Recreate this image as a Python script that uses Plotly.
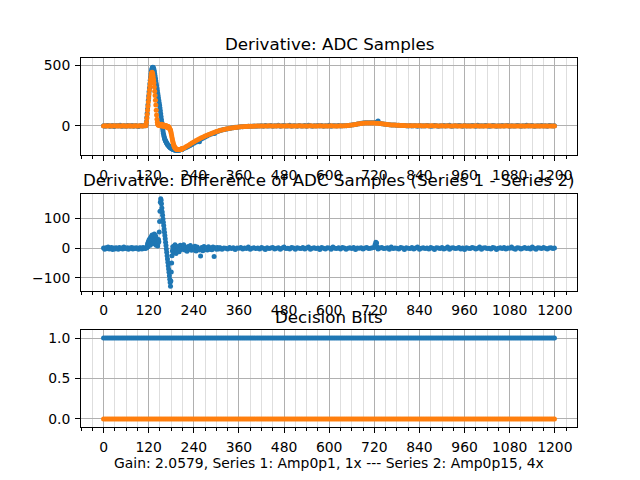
import plotly.graph_objects as go

# ---------------- data ----------------
# Panel 1: derivative of ADC samples, sample index grid
adc_x = (list(range(0, 112, 4)) + list(range(112, 210)) + list(range(210, 420, 5))
         + list(range(420, 1200, 5)) + [1199])

adc_series1 = [
    # 0..108 step 4
    2, -3, 1, 4, -2, 0, 3, -4, 1, 2, -1, 5, -3, 0, 2, -2, 4, -1, 0, 3, -3, 1, 2, -4, 0, 3, -1, 2,
    # 112..209 step 1
    2, 10, 35, 70, 105, 140, 175, 210, 245, 280,
    312, 345, 375, 402, 426, 446, 461, 472, 479, 481,
    479, 472, 461, 446, 428, 409, 389, 369, 349, 329,
    309, 289, 269, 249, 229, 209, 189, 169, 147, 124,
    100, 76, 52, 28, 4, -20, -42, -60, -75, -88,
    -99, -109, -117, -124, -130, -136, -141, -146, -151, -155,
    -159, -163, -167, -170, -173, -176, -179, -181, -183, -185,
    -187, -189, -190, -191, -193, -194, -195, -196, -196, -197,
    -197, -198, -198, -198, -198, -198, -197, -197, -197, -196,
    -196, -195, -195, -194, -193, -192, -191, -190,
    # 210..415 step 5
    -189, -183, -176, -168, -160, -151, -142, -133, -124, -130,
    -106, -98, -90, -82, -75, -68, -61, -62, -49, -44,
    -38, -33, -29, -26, -23, -20, -17, -14, -11, -10,
    -8, -7, -6, -5, -4, -3, -3, -2, -1, -2,
    0, -1,
    # 420..635 step 5
    1, -2, 3, 0, -1, 4, -3, 2, 0, 5,
    -2, 1, 3, -1, 0, 6, -3, 2, 1, -2,
    4, 0, -1, 3, -2, 5, 1, -3, 2, 0,
    3, -1, 4, -2, 1, 0, 5, -3, 2, 1,
    -1, 3, 0, 2,
    # 640..800 step 5
    1, 2, 3, 5, 7, 10, 13, 16, 19, 22,
    24, 26, 27, 27, 27, 26, 26, 30, 40, 22,
    19, 17, 15, 13, 11, 9, 8, 7, 6, 5,
    4, 4, 3,
    # 805..1195 step 5, then 1199
    2, 0, 3, -1, 2, 1, -2, 4, 0, 1,
    -1, 3, 2, -2, 0, 4, 1, -3, 2, 0,
    3, -1, 1, 5, -2, 0, 2, -1, 3, 1,
    -2, 4, 0, 2, -1, 3, 1, -2, 5, 0,
    1, -1, 3, 2, -3, 0, 4, 1, -2, 2,
    0, 3, -1, 1, 4, -2, 2, 0, -1, 3,
    1, -3, 2, 0, 5, -1, 1, 3, -2, 0,
    2, -1, 4, 0, 1, -2, 3, 1, 0,
    1,
]

adc_series2 = [
    # 0..108 step 4
    0, 1, -1, 0, 2, 0, -1, 1, 0, 0, 1, -1, 0, 2, 0, -1, 0, 1, 0, -1, 0, 1, 0, -1, 1, 0, 0, 1,
    # 112..209 step 1
    1, 8, 30, 62, 95, 128, 162, 196, 230, 262,
    295, 325, 355, 382, 405, 424, 436, 440, 434, 420,
    402, 380, 352, 320, 285, 250, 212, 172, 130, 90,
    55, 30, 15, 10, 6, 12, 4, 15, 8, 2,
    10, 5, 14, 0, 8, 3, 10, -2, 6, 0,
    5, -4, 3, -6, 2, -8, 0, -10, -3, -12,
    -5, -15, -8, -18, -22, -28, -36, -48, -62, -78,
    -94, -110, -125, -139, -150, -160, -168, -174, -179, -183,
    -186, -188, -190, -191, -192, -192, -193, -193, -193, -193,
    -192, -192, -191, -191, -190, -189, -188, -187,
    # 210..415 step 5
    -185, -178, -169, -160, -150, -140, -131, -122, -113, -105,
    -97, -90, -83, -76, -69, -63, -57, -51, -46, -41,
    -36, -32, -28, -25, -22, -19, -16, -14, -12, -10,
    -8, -7, -6, -5, -4, -3, -3, -2, -2, -1,
    -1, -1,
    # 420..635 step 5
    0, -1, 0, 0, 1, 0, -1, 0, 0, 1,
    0, 0, -1, 0, 1, 0, 0, -1, 0, 0,
    1, 0, 0, -1, 0, 0, 1, 0, 0, -1,
    0, 1, 0, 0, -1, 0, 0, 1, 0, 0,
    -1, 0, 1, 0,
    # 640..800 step 5
    1, 2, 3, 5, 7, 10, 13, 16, 19, 21,
    23, 24, 25, 25, 25, 24, 24, 23, 22, 20,
    18, 16, 14, 12, 10, 9, 8, 7, 6, 5,
    4, 3, 3,
    # 805..1195 step 5, then 1199
    2, 1, 2, 1, 1, 2, 1, 1, 1, 0,
    1, 1, 0, 1, 1, 0, 1, 0, 0, 1,
    0, 0, 1, 0, 0, 0, 1, 0, 0, 0,
    0, 1, 0, 0, 0, 0, 0, 1, 0, 0,
    0, 0, 0, 0, 1, 0, 0, 0, 0, 0,
    0, 0, 0, 1, 0, 0, 0, 0, 0, 0,
    0, 0, 0, 0, 0, 1, 0, 0, 0, 0,
    0, 0, 0, 0, 0, 0, 0, 0, 0,
    0,
]

# Panel 2: derivative of the difference (Series 1 - Series 2)
diff_x = (list(range(0, 114, 3)) + list(range(114, 195)) + list(range(195, 310, 3))
          + list(range(310, 720, 5)) + [720, 722, 724, 726, 728]
          + list(range(730, 1200, 5)) + [1199])

diff_values = [
    # 0..111 step 3
    1, -3, 2, -1, 4, -2, 0, 3, -4, 1, -2, 2, 0, -3, 3, -1, 1, -2, 4, 0,
    -1, 2, -3, 1, 0, 3, -2, 1, -1, 2, 0, -3, 2, 1, -2, 3, 0, -1,
    # 114..194 step 1
    1, 3, 8, 15, 5, 22, 12, 28, 18, 32,
    10, 35, 25, 40, 20, 45, 30, 38, 15, 42,
    28, 48, 35, 44, 20, 40, 10, 30, 12, 25,
    8, 18, 30, 22, 55, 90, 125, 155, 167, 162,
    150, 136, 122, 111, 99, 88, 77, 65, 54, 43,
    32, 20, 9, -2, -13, -25, -36, -47, -59, -70,
    -81, -93, -104, -115, -128, -110, -80, -50, -25, -8,
    5, -12, 3, -15, 8, -5, 12, -10, 4, -18,
    6,
    # 195..309 step 3
    -8, 5, -12, 10, -4, 8, 12, -6, 3, -10,
    6, -3, 9, -7, 2, -5, 7, -9, 4, -2,
    -6, -26, 3, -8, 6, -4, 2, -6, 5, -3,
    1, -5, 4, -28, 2, -3, 3, -2, 1,
    # 310..715 step 5
    2, -3, 1, 0, -2, 3, -1, 2, -4, 1,
    0, 3, -2, 1, -1, 4, -3, 0, 2, -1,
    1, -2, 3, 0, -4, 2, -1, 1, 3, -2,
    0, 2, -3, 1, 4, -1, 0, -2, 3, 1,
    -3, 2, 0, -1, 3, -2, 1, 4, -3, 0,
    2, -1, 1, -4, 3, 0, -2, 2, 1, -3,
    4, 0, -1, 2, -2, 3, 1, -3, 0, 2,
    -1, 3, -4, 1, 0, 2, -2, 1, 3, -1,
    0, 2,
    # 720..728
    3, 12, 20, 18, 4,
    # 730..1195 step 5
    -2, 1, 3, -1, 0, 2, -3, 4, -1, 1,
    0, -2, 3, 1, -4, 2, 0, -1, 3, -2,
    1, 4, -3, 0, 2, -1, 1, -2, 3, 0,
    -4, 2, 1, -1, 3, -2, 0, 4, -3, 1,
    2, -1, 0, 3, -2, 1, -4, 2, 0, -1,
    3, 1, -2, 0, 4, -3, 1, 2, -1, 0,
    -2, 3, 1, -4, 0, 2, -1, 3, -2, 1,
    0, 4, -1, -3, 2, 1, -2, 0, 3, -1,
    1, -2, 4, 0, -3, 2, 1, -1, 3, 0,
    -2, 1, 2, -1,
    # 1199
    1,
]

# Panel 3: decision bits (constant in the picture)
bits_x = list(range(0, 1200, 5)) + [1199]
bits_series1 = [1] * len(bits_x)
bits_series2 = [0] * len(bits_x)

x_ticks = [0, 120, 240, 360, 480, 600, 720, 840, 960, 1080, 1200]
y1_ticks = [0, 500]
y2_ticks = [-100, 0, 100]
y3_ticks = [0.0, 0.5, 1.0]

assert len(adc_x) == len(adc_series1) == len(adc_series2), (len(adc_x), len(adc_series1), len(adc_series2))
assert len(diff_x) == len(diff_values), (len(diff_x), len(diff_values))

titles = ["Derivative: ADC Samples",
          "Derivative: Difference of ADC Samples (Series 1 - Series 2)",
          "Decision Bits"]
xlabel = "Gain: 2.0579, Series 1: Amp0p1, 1x --- Series 2: Amp0p15, 4x"

# ---------------- figure ----------------
BLUE = "#1f77b4"
ORANGE = "#ff7f0e"
MS = 5
FONT = "DejaVu Sans"

fig = go.Figure()
mk = lambda c: dict(color=c, size=MS, line=dict(width=0))
fig.add_trace(go.Scatter(x=adc_x, y=adc_series1, mode="markers", marker=mk(BLUE), xaxis="x", yaxis="y"))
fig.add_trace(go.Scatter(x=adc_x, y=adc_series2, mode="markers", marker=mk(ORANGE), xaxis="x", yaxis="y"))
fig.add_trace(go.Scatter(x=diff_x, y=diff_values, mode="markers", marker=mk(BLUE), xaxis="x2", yaxis="y2"))
fig.add_trace(go.Scatter(x=bits_x, y=bits_series1, mode="markers", marker=mk(BLUE), xaxis="x3", yaxis="y3"))
fig.add_trace(go.Scatter(x=bits_x, y=bits_series2, mode="markers", marker=mk(ORANGE), xaxis="x3", yaxis="y3"))

tickfont = dict(family=FONT, size=13.9, color="black")
common = dict(showline=True, linecolor="black", linewidth=1.1, mirror=True,
              ticks="outside", ticklen=4.9, tickwidth=1.1, tickcolor="black",
              showgrid=True, gridcolor="#b0b0b0", gridwidth=1.1, zeroline=False,
              tickfont=tickfont, ticklabelstandoff=2)

def xax(anchor):
    return dict(common, range=[-60, 1259], tickmode="array", tickvals=x_ticks, anchor=anchor,
                minor=dict(dtick=30, tick0=0, ticks="outside", ticklen=2.8, tickwidth=0.8,
                           tickcolor="black", showgrid=True, gridcolor="#dedede", gridwidth=0.8))

# The page body has an 8px default margin, so the figure is drawn 8px smaller
# and the plot-area margins are reduced by 8px to land where the reference has them.
H = 369.0
def dom(top_px, bot_px):
    return [(427 - bot_px) / H, (427 - top_px) / H]

fig.update_layout(
    width=632, height=472,
    margin=dict(l=73, r=63, t=50, b=53),
    paper_bgcolor="white", plot_bgcolor="white",
    showlegend=False,
    font=dict(family=FONT, color="black"),
    xaxis=xax("y"), xaxis2=xax("y2"), xaxis3=xax("y3"),
    yaxis=dict(common, domain=dom(58.3, 155), range=[-238, 555], tickmode="array", tickvals=y1_ticks, anchor="x"),
    yaxis2=dict(common, domain=dom(194, 290.7), range=[-143, 183], tickmode="array", tickvals=y2_ticks, anchor="x2"),
    yaxis3=dict(common, domain=dom(330, 427), range=[-0.1, 1.1], tickmode="array", tickvals=y3_ticks,
                tickformat=".1f", anchor="x3"),
)

def ypaper(px):
    return (427 - px) / H

for text, py in zip(titles, [44, 180, 317]):
    fig.add_annotation(text=text, x=0.5, xref="paper", y=ypaper(py), yref="paper",
                       xanchor="center", yanchor="middle", showarrow=False,
                       font=dict(family=FONT, size=16.7, color="black"))
fig.add_annotation(text=xlabel, x=0.5, xref="paper", y=ypaper(463), yref="paper",
                   xanchor="center", yanchor="middle", showarrow=False,
                   font=dict(family=FONT, size=13.9, color="black"))

fig.write_html("out.html")
